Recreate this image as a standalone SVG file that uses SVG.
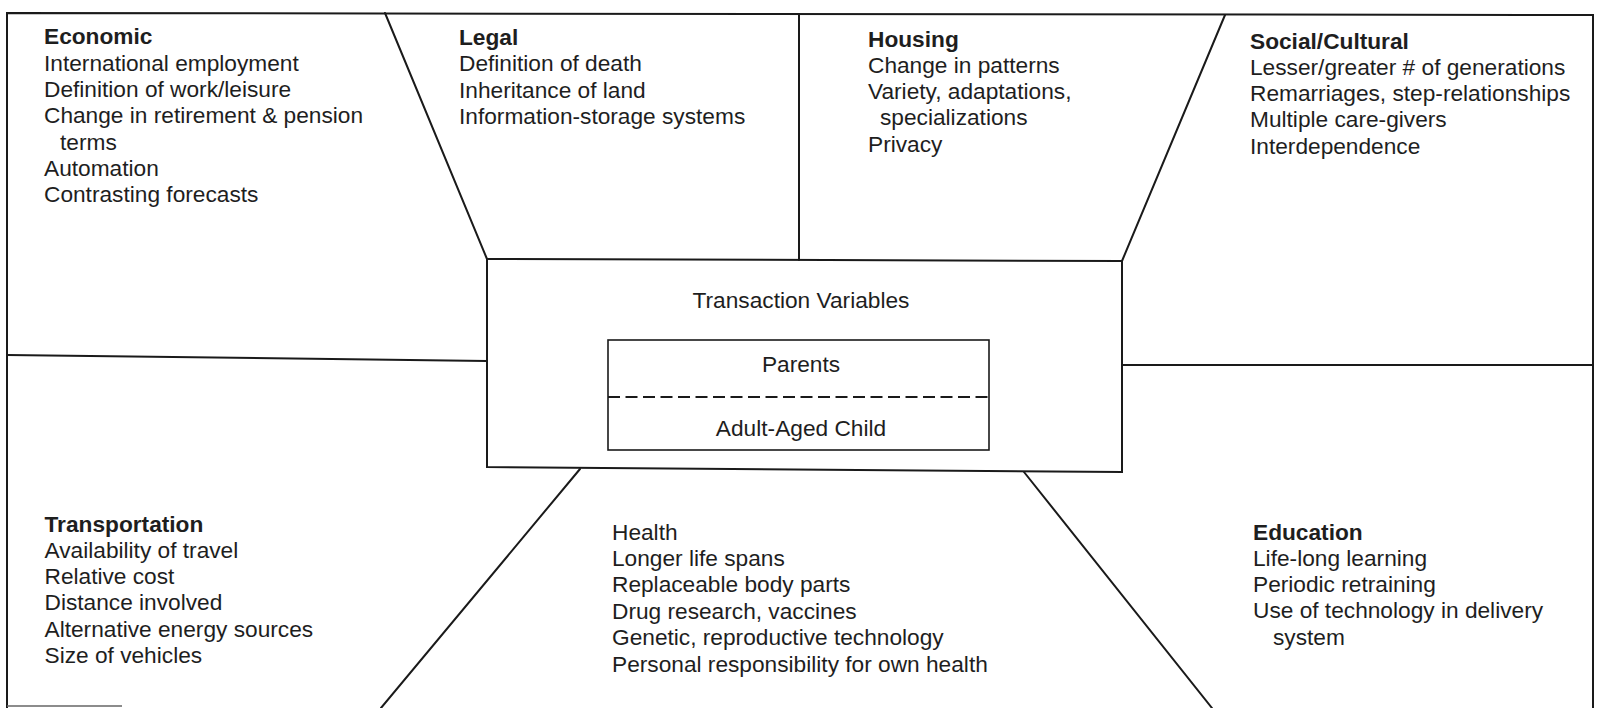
<svg xmlns="http://www.w3.org/2000/svg" width="1599" height="708" viewBox="0 0 1599 708">
<style>
.ln{stroke:#1a1a1a;stroke-width:2;fill:none;stroke-linecap:round}
.thin{stroke:#1a1a1a;stroke-width:1.6;fill:none}
.dash{stroke:#1a1a1a;stroke-width:2;stroke-dasharray:12 5.5;fill:none}
text{font-family:"Liberation Sans",Arial,sans-serif;font-size:22.7px;fill:#1e1e1e}
.h{font-weight:bold}
.c{text-anchor:middle}
</style>
<rect width="1599" height="708" fill="#ffffff"/>
<g id="connectors">
<polyline class="ln" points="7,708 7,13 1593,15 1593,708"/>
<line class="ln" x1="385" y1="13" x2="487" y2="259"/>
<line class="ln" x1="799" y1="14" x2="799" y2="260"/>
<line class="ln" x1="1225" y1="15" x2="1122" y2="261"/>
<line class="ln" x1="7" y1="355" x2="487" y2="361"/>
<line class="ln" x1="1122" y1="365" x2="1593" y2="365"/>
<line class="ln" x1="580" y1="469" x2="381" y2="708"/>
<line class="ln" x1="1024" y1="472" x2="1212" y2="708"/>
<line x1="7" y1="706" x2="122" y2="706" stroke="#666" stroke-width="1.5"/>
</g>
<g id="center">
<polygon class="ln" points="487,259 1122,261 1122,472 487,467"/>
<text class="c" x="801" y="308">Transaction Variables</text>
<rect class="thin" x="608" y="340" width="381" height="110"/>
<text class="c" x="801" y="372">Parents</text>
<line class="dash" x1="608" y1="397" x2="989" y2="397"/>
<text class="c" x="801" y="436">Adult-Aged Child</text>
</g>
<g id="economic">
<text class="h" x="44" y="44.3">Economic</text>
<text x="44" y="70.7">International employment</text>
<text x="44" y="96.9">Definition of work/leisure</text>
<text x="44" y="123.2">Change in retirement &amp; pension</text>
<text x="60" y="149.5">terms</text>
<text x="44" y="175.8">Automation</text>
<text x="44" y="202.1">Contrasting forecasts</text>
</g>
<g id="legal">
<text class="h" x="459" y="45">Legal</text>
<text x="459" y="71.3">Definition of death</text>
<text x="459" y="97.6">Inheritance of land</text>
<text x="459" y="123.9">Information-storage systems</text>
</g>
<g id="housing">
<text class="h" x="868" y="46.5">Housing</text>
<text x="868" y="72.8">Change in patterns</text>
<text x="868" y="99.1">Variety, adaptations,</text>
<text x="880" y="125.4">specializations</text>
<text x="868" y="151.7">Privacy</text>
</g>
<g id="social">
<text class="h" x="1250" y="48.5">Social/Cultural</text>
<text x="1250" y="74.8">Lesser/greater # of generations</text>
<text x="1250" y="101.1">Remarriages, step-relationships</text>
<text x="1250" y="127.4">Multiple care-givers</text>
<text x="1250" y="153.7">Interdependence</text>
</g>
<g id="transportation">
<text class="h" x="44.5" y="531.5">Transportation</text>
<text x="44.5" y="557.8">Availability of travel</text>
<text x="44.5" y="584.1">Relative cost</text>
<text x="44.5" y="610.4">Distance involved</text>
<text x="44.5" y="636.7">Alternative energy sources</text>
<text x="44.5" y="663">Size of vehicles</text>
</g>
<g id="health">
<text x="612" y="539.5">Health</text>
<text x="612" y="565.9">Longer life spans</text>
<text x="612" y="592.3">Replaceable body parts</text>
<text x="612" y="618.7">Drug research, vaccines</text>
<text x="612" y="645.1">Genetic, reproductive technology</text>
<text x="612" y="671.5">Personal responsibility for own health</text>
</g>
<g id="education">
<text class="h" x="1253" y="539.5">Education</text>
<text x="1253" y="565.8">Life-long learning</text>
<text x="1253" y="592.1">Periodic retraining</text>
<text x="1253" y="618.4">Use of technology in delivery</text>
<text x="1273" y="644.7">system</text>
</g>
</svg>
